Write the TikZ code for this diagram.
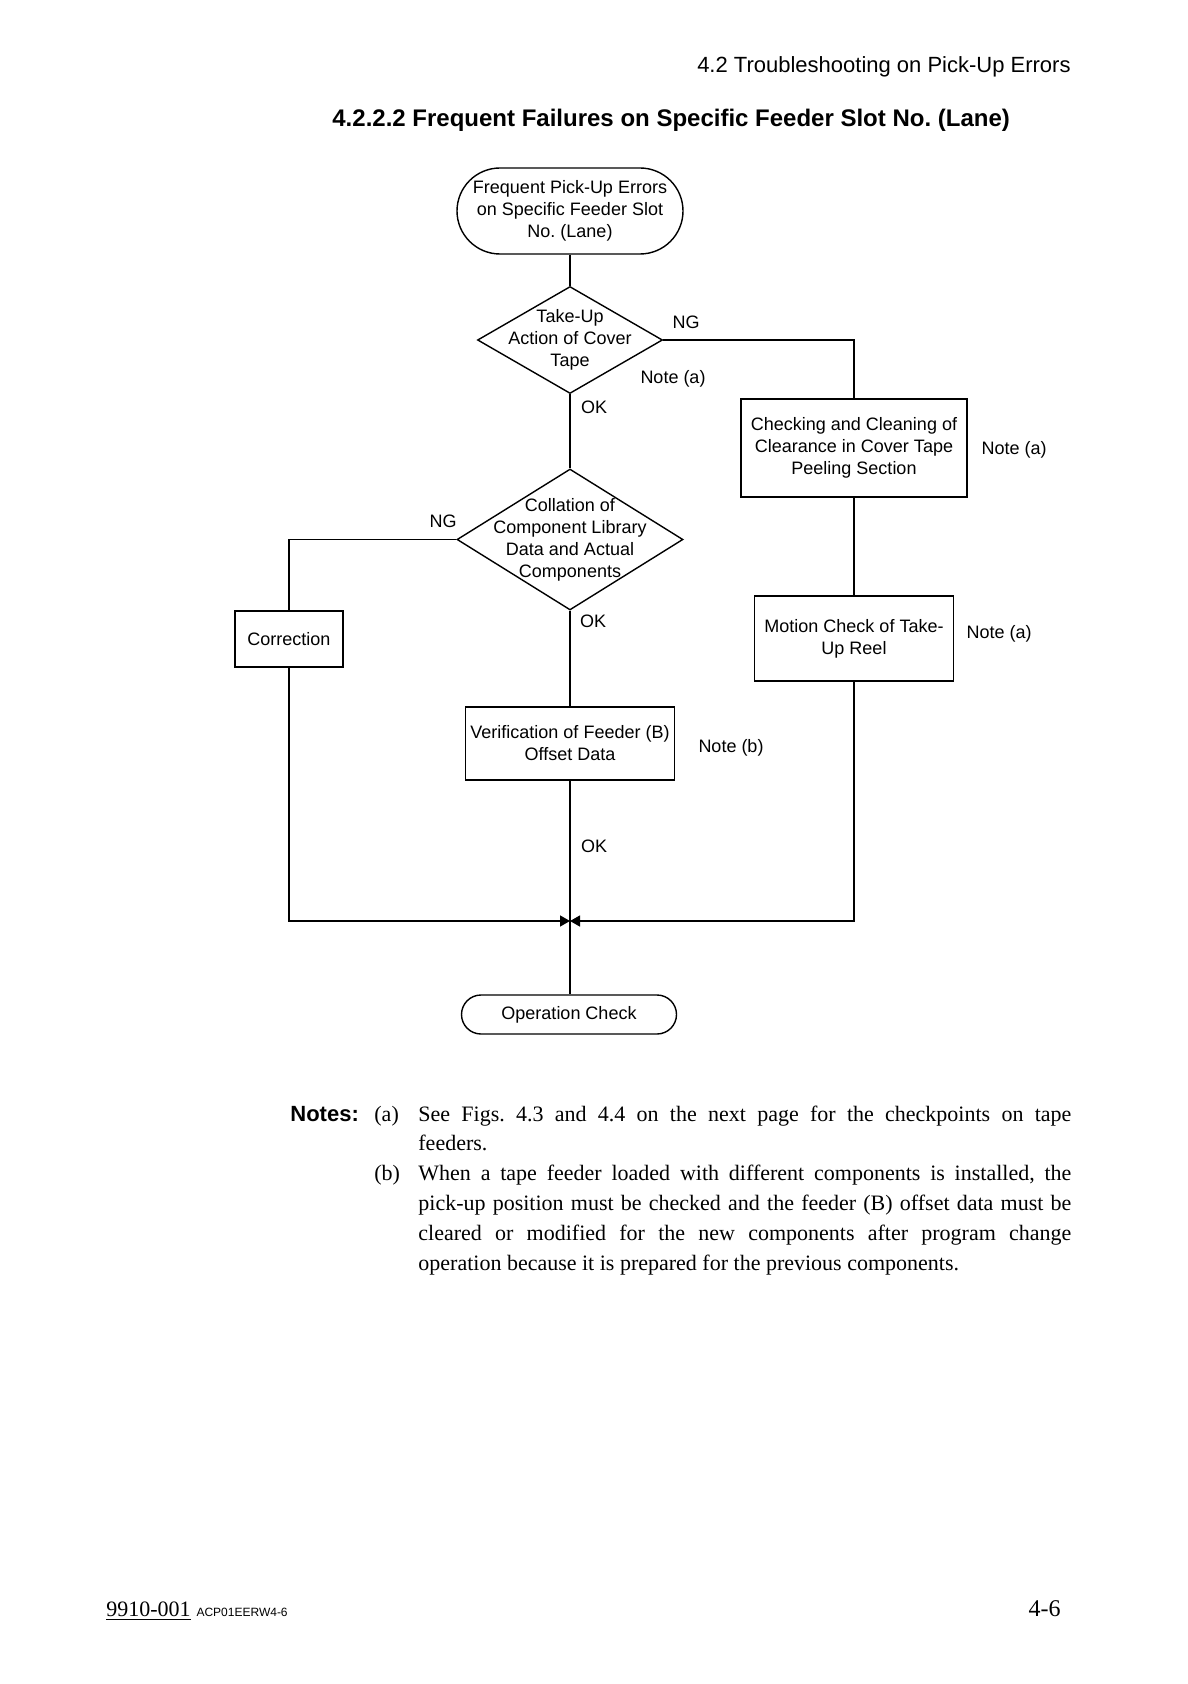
\documentclass[tikz,border=0pt]{standalone}
\usepackage{fontspec}
\setmainfont{Liberation Serif}
\setsansfont{Liberation Sans}
\usetikzlibrary{shapes.geometric,shapes.misc,arrows.meta}
\frenchspacing
\begin{document}
\frenchspacing
\begin{tikzpicture}[x=0.5pt,y=-0.5pt,
  conn/.style={draw=black,line width=0.7pt},
  dtext/.style={font=\sffamily\fontsize{9}{11}\selectfont,align=center,inner sep=0pt},
  lbl/.style={font=\sffamily\fontsize{9}{11}\selectfont,inner sep=0pt},
  procbox/.style={draw=black,line width=0.7pt,rectangle,inner sep=0pt,dtext},
  termshape/.style={draw=black,line width=0.7pt,rounded rectangle,inner sep=0pt},
  decision/.style={draw=black,line width=0.7pt,diamond,inner sep=0pt},
  noteline/.style={font=\rmfamily\fontsize{11}{15}\selectfont,anchor=base west,inner sep=0pt},
  tip/.style={-{Triangle[length=5pt,width=5.5pt]}}
]
\fill[white] (0,0) rectangle (1187,1684);
\useasboundingbox (0,0) rectangle (1187,1684);

% header and title
\node[font=\sffamily\fontsize{11}{13}\selectfont,anchor=base east,inner sep=0pt] (hdr) at (1071,73) {4.2 Troubleshooting on Pick-Up Errors};
\node[font=\sffamily\bfseries\fontsize{12}{14}\selectfont,anchor=base west,inner sep=0pt] (title) at (332,127) {4.2.2.2 Frequent Failures on Specific Feeder Slot No. (Lane)};

% flowchart shapes
\node[termshape,minimum width=113pt,minimum height=43pt] (start) at (570,211) {};
\node[dtext] (starttxt) at (start.center) {Frequent Pick-Up Errors\\on Specific Feeder Slot\\No. (Lane)};

\node[decision,minimum width=92.5pt,minimum height=53.5pt] (d1) at (570,340) {};
\node[dtext] (d1txt) at (d1.center) {Take-Up\\Action of Cover\\Tape};

\node[procbox,minimum width=113pt,minimum height=49pt] (b1) at (854,448) {Checking and Cleaning of\\Clearance in Cover Tape\\Peeling Section};
\node[procbox,minimum width=99.5pt,minimum height=42.5pt] (b2) at (854,638.5) {Motion Check of Take-\\Up Reel};

\node[decision,minimum width=113pt,minimum height=70.5pt] (d2) at (570,539.5) {};
\node[dtext] (d2txt) at (d2.center) {Collation of\\Component Library\\Data and Actual\\Components};

\node[procbox,minimum width=54pt,minimum height=28pt] (corr) at (289,639) {Correction};
\node[procbox,minimum width=104.5pt,minimum height=36.5pt] (ver) at (570,743.5) {Verification of Feeder (B)\\Offset Data};

\node[termshape,minimum width=107.5pt,minimum height=19.5pt] (op) at (569,1014.5) {};
\node[dtext] (optxt) at (op.center) {Operation Check};

\coordinate (join) at (570,921);

% connectors
\draw[conn] (start.south) -- (d1.north);
\draw[conn] (d1.east) -| (b1.north);
\draw[conn] (b1.south) -- (b2.north);
\draw[conn] (d1.south) -- (d2.north);
\draw[conn] (d2.west) -| (corr.north);
\draw[conn] (d2.south) -- (ver.north);
\draw[conn] (ver.south) -- (op.north -| ver.south);
\draw[conn,tip] (corr.south) |- (join);
\draw[conn,tip] (b2.south) |- (join);

% labels
\node[lbl] (ng1) at (686,322) {NG};
\node[lbl] (na1) at (673,379) {Note (a)};
\node[lbl] (ok1) at (594,407) {OK};
\node[lbl] (na2) at (1014,450) {Note (a)};
\node[lbl] (ng2) at (443,521) {NG};
\node[lbl] (ok2) at (593,621) {OK};
\node[lbl] (na3) at (999,634) {Note (a)};
\node[lbl] (nb) at (731,748) {Note (b)};
\node[lbl] (ok3) at (594,846) {OK};

% notes
\node[font=\sffamily\bfseries\fontsize{11}{15}\selectfont,anchor=base west,inner sep=0pt] (notes) at (290,1121) {Notes:};
\node[noteline] (ma) at (374,1121) {(a)};
\node[noteline] (la1) at (418,1121) {\hbox to 326.5pt{See Figs. 4.3 and 4.4 on the next page for the checkpoints on tape}};
\node[noteline] (la2) at (418,1150) {feeders.};
\node[noteline] (mb) at (374,1180) {(b)};
\node[noteline] (lb1) at (418,1180) {\hbox to 326.5pt{When a tape feeder loaded with different components is installed, the}};
\node[noteline] (lb2) at (418,1210) {\hbox to 326.5pt{pick-up position must be checked and the feeder (B) offset data must be}};
\node[noteline] (lb3) at (418,1240) {\hbox to 326.5pt{cleared or modified for the new components after program change}};
\node[noteline] (lb4) at (418,1270) {operation because it is prepared for the previous components.};

% footer
\node[font=\rmfamily\fontsize{11}{13}\selectfont,anchor=base west,inner sep=0pt] (docno) at (106,1616) {\underline{9910-001}};
\node[font=\sffamily\fontsize{6}{8}\selectfont,anchor=base west,inner sep=0pt] (acp) at ([xshift=2.5pt]docno.base east) {ACP01EERW4-6};
\node[font=\rmfamily\fontsize{12}{14}\selectfont,anchor=base east,inner sep=0pt] (pg) at (1061,1616) {4-6};
\end{tikzpicture}
\end{document}
